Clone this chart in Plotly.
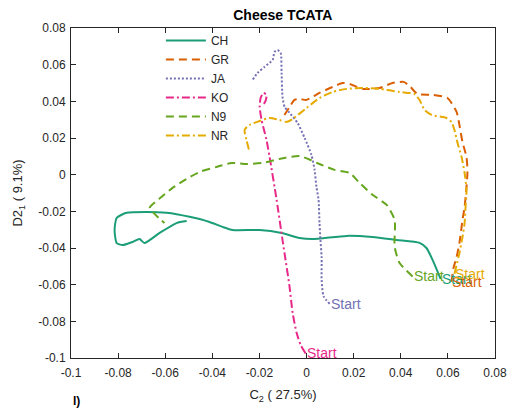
import plotly.graph_objects as go

# Trajectory coordinates for each cheese, listed from the starting point onward
ch_x = [0.0569, 0.0535, 0.0509, 0.0480, 0.0382, 0.0280, 0.0170, 0.0025, -0.0030, -0.0106,
        -0.0199, -0.0314, -0.0357, -0.0412, -0.0497, -0.0594, -0.0679, -0.0764, -0.0806,
        -0.0815, -0.0806, -0.0781, -0.0739, -0.0709, -0.0688, -0.0624, -0.0552, -0.0509]
ch_y = [-0.0569, -0.0465, -0.0400, -0.0372, -0.0356, -0.0340, -0.0334, -0.0351, -0.0345, -0.0318,
        -0.0302, -0.0302, -0.0285, -0.0258, -0.0230, -0.0208, -0.0203, -0.0208, -0.0236,
        -0.0302, -0.0373, -0.0384, -0.0367, -0.0351, -0.0373, -0.0318, -0.0264, -0.0253]

gr_x = [0.0615, 0.0624, 0.0637, 0.0649, 0.0662, 0.0671, 0.0679, 0.0683, 0.0679, 0.0662,
        0.0649, 0.0637, 0.0598, 0.0535, 0.0471, 0.0437, 0.0412, 0.0365, 0.0310, 0.0238,
        0.0183, 0.0153, 0.0110, 0.0055, 0.0000, -0.0030, -0.0051, -0.0072, -0.0102]
gr_y = [-0.0585, -0.0509, -0.0449, -0.0373, -0.0247, -0.0176, -0.0067, 0.0015, 0.0097, 0.0178,
        0.0271, 0.0342, 0.0418, 0.0435, 0.0440, 0.0484, 0.0506, 0.0500, 0.0473, 0.0468,
        0.0495, 0.0500, 0.0478, 0.0446, 0.0408, 0.0413, 0.0408, 0.0369, 0.0309]

ja_x = [0.0098, 0.0072, 0.0064, 0.0064, 0.0059, 0.0055, 0.0051, 0.0042, 0.0034, 0.0021,
        -0.0008, -0.0038, -0.0072, -0.0093, -0.0102, -0.0106, -0.0110, -0.0123, -0.0136,
        -0.0144, -0.0178, -0.0208, -0.0229]
ja_y = [-0.0705, -0.0662, -0.0575, -0.0449, -0.0357, -0.0264, -0.0138, -0.0067, 0.0026, 0.0107,
        0.0200, 0.0282, 0.0337, 0.0369, 0.0424, 0.0555, 0.0664, 0.0680, 0.0669,
        0.0626, 0.0588, 0.0555, 0.0517]

ko_x = [-0.0004, -0.0025, -0.0042, -0.0059, -0.0072, -0.0089, -0.0102, -0.0127, -0.0157,
        -0.0170, -0.0191, -0.0199, -0.0195, -0.0183, -0.0170, -0.0174, -0.0187]
ko_y = [-0.0975, -0.0929, -0.0864, -0.0755, -0.0613, -0.0466, -0.0357, -0.0138, 0.0097,
        0.0189, 0.0298, 0.0369, 0.0418, 0.0446, 0.0435, 0.0402, 0.0375]

n9_x = [0.0450, 0.0395, 0.0374, 0.0374, 0.0340, 0.0280, 0.0225, 0.0183, 0.0119, 0.0055,
        -0.0030, -0.0115, -0.0187, -0.0255, -0.0318, -0.0382, -0.0454, -0.0509, -0.0569,
        -0.0615, -0.0666, -0.0645, -0.0628, -0.0603]
n9_y = [-0.0555, -0.0482, -0.0394, -0.0247, -0.0165, -0.0110, -0.0045, 0.0009, 0.0026, 0.0058,
        0.0102, 0.0086, 0.0064, 0.0058, 0.0064, 0.0042, 0.0015, -0.0023, -0.0072,
        -0.0121, -0.0181, -0.0214, -0.0236, -0.0264]

nr_x = [0.0628, 0.0637, 0.0649, 0.0662, 0.0671, 0.0675, 0.0679, 0.0671, 0.0658, 0.0641,
        0.0628, 0.0615, 0.0594, 0.0531, 0.0501, 0.0480, 0.0458, 0.0395, 0.0310, 0.0238,
        0.0170, 0.0110, 0.0055, 0.0000, -0.0059, -0.0085, -0.0115, -0.0157, -0.0199,
        -0.0242, -0.0263, -0.0255, -0.0242]
nr_y = [-0.0540, -0.0493, -0.0427, -0.0340, -0.0264, -0.0176, -0.0083, 0.0009, 0.0097, 0.0173,
        0.0244, 0.0288, 0.0309, 0.0326, 0.0353, 0.0407, 0.0440, 0.0451, 0.0468, 0.0473,
        0.0468, 0.0451, 0.0418, 0.0364, 0.0304, 0.0288, 0.0298, 0.0309, 0.0293,
        0.0271, 0.0244, 0.0189, 0.0124]

names = ["CH", "GR", "JA", "KO", "N9", "NR"]
xs = [ch_x, gr_x, ja_x, ko_x, n9_x, nr_x]
ys = [ch_y, gr_y, ja_y, ko_y, n9_y, nr_y]
colors = ["#1b9e77", "#d95f02", "#7570b3", "#e7298a", "#66a61e", "#e6ab02"]
dashes = ["solid", "8px,5px", "2px,2px", "8px,3px,2px,3px", "8px,5px", "8px,3px,2px,3px"]

tick_vals = [-0.1, -0.08, -0.06, -0.04, -0.02, 0, 0.02, 0.04, 0.06, 0.08]
tick_text = ["-0.1", "-0.08", "-0.06", "-0.04", "-0.02", "0", "0.02", "0.04", "0.06", "0.08"]

FONT = "Liberation Sans, Arial, sans-serif"
AX = "#262626"

fig = go.Figure()
for name, x, y, c, d in zip(names, xs, ys, colors, dashes):
    fig.add_trace(go.Scatter(x=x, y=y, mode="lines", name=name,
                             line=dict(color=c, width=2, dash=d, shape="spline", smoothing=0.6)))
    fig.add_annotation(x=x[0], y=y[0], text="Start", showarrow=False,
                       xanchor="left", yanchor="middle", xshift=-1,
                       font=dict(family=FONT, size=14, color=c))

axis_common = dict(
    tickvals=tick_vals, ticktext=tick_text, ticks="inside", ticklen=5,
    tickcolor=AX, tickwidth=1, showline=True, linecolor=AX, linewidth=1,
    mirror="ticks", showgrid=False, zeroline=False, automargin=False,
    tickfont=dict(family=FONT, size=12, color=AX),
)

fig.update_xaxes(range=[-0.1, 0.08], ticklabelstandoff=4,
                 title=dict(text="C<sub>2</sub> ( 27.5%)", standoff=10,
                            font=dict(family=FONT, size=13, color=AX)), **axis_common)
fig.update_yaxes(range=[-0.1, 0.08], ticklabelstandoff=2,
                 title=dict(text="D2<sub>1</sub> ( 9.1%)", standoff=12,
                            font=dict(family=FONT, size=13, color=AX)), **axis_common)

# panel letter at the bottom edge of the figure
fig.add_annotation(xref="paper", yref="paper", x=0.0, y=-0.103,
                   text="<b>l)</b>", showarrow=False, xanchor="left", yanchor="top",
                   font=dict(family=FONT, size=12, color="#000000"))

fig.update_layout(
    width=511, height=408,
    margin=dict(l=71, r=16, t=28, b=50, autoexpand=False),
    paper_bgcolor="white", plot_bgcolor="white",
    title=dict(text="<b>Cheese TCATA</b>", x=0.5534, xanchor="center", y=0.963, yanchor="middle",
               font=dict(family=FONT, size=14, color="#000000")),
    legend=dict(x=0.212, y=1.006, xanchor="left", yanchor="top", bgcolor="rgba(0,0,0,0)",
                borderwidth=0, font=dict(family=FONT, size=12, color=AX), tracegroupgap=0,
                itemwidth=40),
    showlegend=True,
)

fig.write_html("out.html")
